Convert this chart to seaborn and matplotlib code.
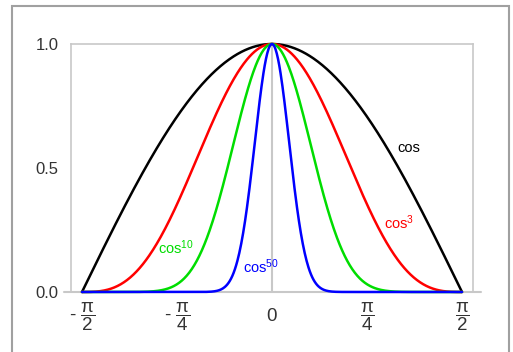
import numpy as np
import pandas as pd
import seaborn as sns
import matplotlib.pyplot as plt
from matplotlib.patches import Rectangle

# === Data: powers of cosine shown in the chart ===
powers = [1, 3, 10, 50]
curve_labels = ["cos", "cos$^{3}$", "cos$^{10}$", "cos$^{50}$"]
curve_colors = ["#000000", "#ff0000", "#00dd00", "#0000ff"]
x_tick_values = [-np.pi / 2, -np.pi / 4, 0, np.pi / 4, np.pi / 2]
x_tick_labels = [r"- $\dfrac{\pi}{2}$", r"- $\dfrac{\pi}{4}$", "$0$", r"$\dfrac{\pi}{4}$", r"$\dfrac{\pi}{2}$"]
y_tick_values = [0.0, 0.5, 1.0]
y_tick_labels = ["0.0", "0.5", "1.0"]

# curves cos^n over [-pi/2, pi/2]
x = np.linspace(-np.pi / 2, np.pi / 2, 600)
frames = []
for p, lab in zip(powers, curve_labels):
    frames.append(pd.DataFrame({"x": x, "y": np.clip(np.cos(x), 0, None) ** p, "curve": lab}))
df = pd.concat(frames, ignore_index=True)

sns.set_style("white")
plt.rcParams["font.family"] = ["Liberation Sans", "DejaVu Sans"]
plt.rcParams["mathtext.fontset"] = "custom"
plt.rcParams["mathtext.rm"] = "Liberation Sans"
plt.rcParams["mathtext.it"] = "Liberation Sans"

fig = plt.figure(figsize=(5.13, 3.52), dpi=100)
ax = fig.add_axes([0.1384, 0.1705, 0.7836, 0.7045])

grey = "#c8c8c8"
ax.axvline(0, color=grey, lw=1.5, zorder=0)

sns.lineplot(data=df, x="x", y="y", hue="curve", palette=dict(zip(curve_labels, curve_colors)),
             hue_order=curve_labels, linewidth=1.8, legend=False, ax=ax, clip_on=False, zorder=3)

pad = 11 * np.pi / 380
ax.set_xlim(-np.pi / 2 - pad, np.pi / 2 + pad)
ax.set_ylim(0, 1)

# curve labels
label_pos = [(1.13, 0.58), (1.05, 0.28), (-0.79, 0.18), (-0.09, 0.10)]
for lab, col, (lx, ly) in zip(curve_labels, curve_colors, label_pos):
    ax.text(lx, ly, lab, color=col, fontsize=10.5, ha="center", va="center")

ax.set_xticks(x_tick_values)
ax.set_xticklabels(x_tick_labels, fontsize=13.5, va="center")
ax.set_yticks(y_tick_values)
ax.set_yticklabels(y_tick_labels, fontsize=12)
ax.set_xlabel("")
ax.set_ylabel("")
ax.tick_params(axis="y", length=5, width=1, color=grey, labelcolor="#333333", pad=4)
ax.tick_params(axis="x", length=3, width=1, color=grey, labelcolor="#333333", pad=15)

for s in ax.spines.values():
    s.set_color(grey)
    s.set_linewidth(1.2)
ax.spines["bottom"].set_visible(False)
ax.axhline(0, xmin=-0.018, xmax=1.02, color=grey, lw=1.5, clip_on=False, zorder=1)

# outer frame
fig.patches.append(Rectangle((12 / 513, -0.05), 497 / 513, 1.05 - 6 / 352, transform=fig.transFigure,
                             fill=False, edgecolor="#a0a0a0", linewidth=1.5))

fig.savefig("out.png", dpi=100)
